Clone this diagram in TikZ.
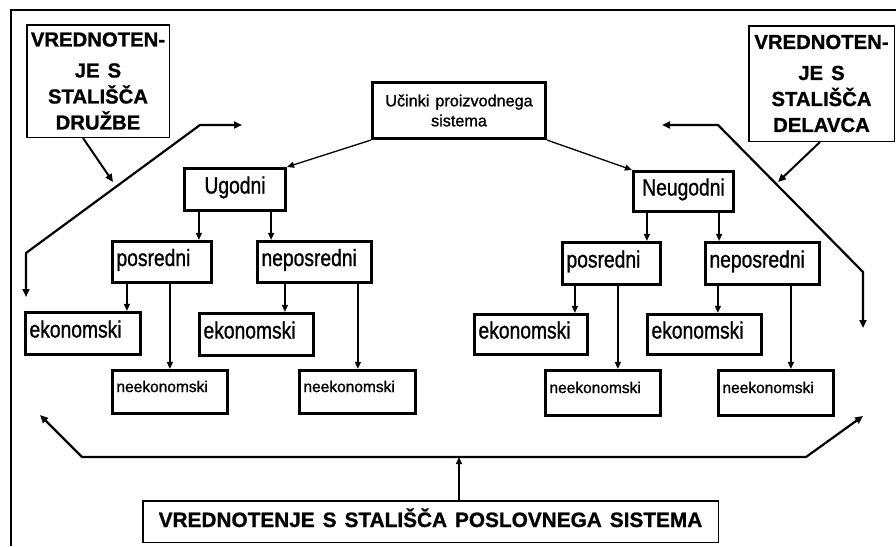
\documentclass[tikz,border=0pt]{standalone}
\usepackage{fontspec}
\usepackage{graphicx}
\setmainfont{Liberation Sans}
\newfontfamily\regf[FakeBold=1.2]{Liberation Sans}
\newfontfamily\heavyf[FakeBold=1.0]{Liberation Sans}
\newcommand\vst[1]{\scalebox{0.94}[1.15]{#1}}
\usetikzlibrary{arrows.meta,calc}
\begin{document}
\begin{tikzpicture}[x=1pt,y=-1pt,
  thickbox/.style={draw, line width=3.2pt, inner xsep=4pt, inner ysep=0pt,
    text height=15pt, text depth=7pt, font=\regf\fontsize{20.5}{24}\selectfont, align=left},
  headbox/.style={draw, line width=3.2pt, inner sep=0pt, align=center,
    font=\regf\fontsize{16.2}{20}\selectfont},
  smallbox/.style={thickbox, font=\regf\fontsize{15.5}{19}\selectfont, text height=11.5pt, text depth=11.5pt},
  thinbox/.style={draw, line width=1.5pt, inner sep=0pt, align=center,
    font=\heavyf\fontsize{20.3}{26}\selectfont\bfseries},
  arr/.style={-{Triangle[length=7pt,width=6pt]}, line width=1.3pt},
  sarr/.style={-{Triangle[length=8pt,width=7pt]}, line width=2pt},
  bigarr/.style={{Triangle[length=8pt,width=7pt]}-{Triangle[length=8pt,width=7pt]}, line width=2.2pt, line join=miter},
]
\useasboundingbox (0,0) rectangle (896,546);
% frame
\draw[line width=2pt] (11,546) -- (11,10) -- (896,10);

% side boxes
\node[thinbox, minimum width=142.5pt, minimum height=112.5pt] (lbox) at (98,81)
  {VREDNOTEN-\\[5pt]JE\hspace{8pt}S\\STALIŠČA\\DRUŽBE};
\node[thinbox, minimum width=145.5pt, minimum height=115.5pt] (rbox) at (821.5,83.5)
  {VREDNOTEN-\\[5pt]JE\hspace{8pt}S\\STALIŠČA\\DELAVCA};

% top box
\node[headbox, minimum width=173pt, minimum height=56pt] (top) at (459,110.5)
  {Učinki\hspace{6pt}proizvodnega\\sistema};

% level 1
\node[thickbox, align=center, minimum width=101pt, minimum height=42pt] (ug) at (235,189.5) {\vst{Ugodni}};
\node[thickbox, align=center, minimum width=100pt, minimum height=40pt] (neug) at (683.5,191.5) {\vst{Neugodni}};

% level 2
\node[thickbox, text width=91pt, minimum height=41pt] (posL) at (162,262) {\vst{posredni}};
\node[thickbox, text width=106pt, minimum height=41pt] (neposL) at (314.5,262) {\vst{neposredni}};
\node[thickbox, text width=90pt, minimum height=42pt] (posR) at (611.5,263.5) {\vst{posredni}};
\node[thickbox, text width=106pt, minimum height=42pt] (neposR) at (762.5,263.5) {\vst{neposredni}};

% level 3
\node[thickbox, text width=107pt, minimum height=42pt] (ekL1) at (83,333.5) {\vst{ekonomski}};
\node[thickbox, text width=106pt, minimum height=42pt] (ekL2) at (256.5,334.5) {\vst{ekonomski}};
\node[thickbox, text width=105pt, minimum height=40pt] (ekR1) at (531,334.5) {\vst{ekonomski}};
\node[thickbox, text width=106pt, minimum height=40pt] (ekR2) at (704.5,334.5) {\vst{ekonomski}};

\node[smallbox, text width=107pt, minimum height=43pt] (neL1) at (170,392) {neekonomski};
\node[smallbox, text width=108pt, minimum height=43pt] (neL2) at (357.5,392) {neekonomski};
\node[smallbox, text width=107pt, minimum height=45pt] (neR1) at (603,393) {neekonomski};
\node[smallbox, text width=107pt, minimum height=45pt] (neR2) at (776,393) {neekonomski};

% bottom box
\node[thinbox, font=\heavyf\fontsize{20.8}{26}\selectfont\bfseries, minimum width=575.5pt, minimum height=41.5pt, text height=15pt, text depth=4pt] (bot) at (430.5,521.5)
  {VREDNOTENJE\hspace{8pt}S\hspace{8pt}STALIŠČA\hspace{8pt}POSLOVNEGA\hspace{8pt}SISTEMA};

% connectors: top to level 1
\draw[arr] (top.south west) -- (ug.north east);
\draw[arr] (top.south east) -- (neug.north west);

% level 1 to level 2
\draw[arr] ([xshift=16pt]ug.south west) -- ([xshift=16pt]ug.south west |- posL.north);
\draw[arr] ([xshift=-16pt]ug.south east) -- ([xshift=-16pt]ug.south east |- neposL.north);
\draw[arr] ([xshift=15pt]neug.south west) -- ([xshift=15pt]neug.south west |- posR.north);
\draw[arr] ([xshift=-16pt]neug.south east) -- ([xshift=-16pt]neug.south east |- neposR.north);

% level 2 to level 3
\draw[arr] ([xshift=16pt]posL.south west) -- ([xshift=16pt]posL.south west |- ekL1.north);
\draw[arr] ([xshift=59pt]posL.south west) -- ([xshift=59pt]posL.south west |- neL1.north);
\draw[arr] ([xshift=29pt]neposL.south west) -- ([xshift=29pt]neposL.south west |- ekL2.north);
\draw[arr] ([xshift=102pt]neposL.south west) -- ([xshift=102pt]neposL.south west |- neL2.north);
\draw[arr] ([xshift=14pt]posR.south west) -- ([xshift=14pt]posR.south west |- ekR1.north);
\draw[arr] ([xshift=57pt]posR.south west) -- ([xshift=57pt]posR.south west |- neR1.north);
\draw[arr] ([xshift=14pt]neposR.south west) -- ([xshift=14pt]neposR.south west |- ekR2.north);
\draw[arr] ([xshift=87pt]neposR.south west) -- ([xshift=87pt]neposR.south west |- neR2.north);

% left long path
\coordinate (L1) at (26,297);
\coordinate (L2) at (26,253);
\coordinate (L3) at (200,125);
\coordinate (L4) at (242,125);
\draw[bigarr] (L1) -- (L2) -- (L3) -- (L4);
\coordinate (La) at (113,182);
\draw[sarr] ([xshift=-15pt]lbox.south) -- (La);

% right long path
\coordinate (R1) at (662,125);
\coordinate (R2) at (718,125);
\coordinate (R3) at (863,272);
\coordinate (R4) at (863,328);
\draw[bigarr] (R1) -- (R2) -- (R3) -- (R4);
\coordinate (Ra) at (778,182);
\draw[sarr] ([xshift=-1.5pt]rbox.south) -- (Ra);

% bottom path
\coordinate (B1) at (40,415);
\coordinate (B2) at (82,457);
\coordinate (B3) at (806,457);
\coordinate (B4) at (863,416);
\draw[bigarr] (B1) -- (B2) -- (B3) -- (B4);
\draw[arr] ([xshift=28.5pt]bot.north) -- ([xshift=28.5pt]bot.north |- B2);
\end{tikzpicture}
\end{document}
